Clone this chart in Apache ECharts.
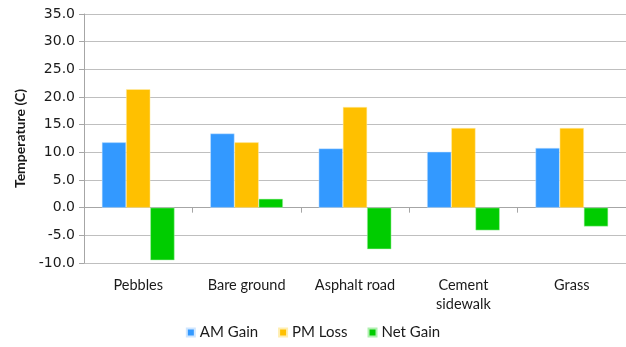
<!DOCTYPE html>
<html><head><meta charset="utf-8">
<script src="https://cdn.jsdelivr.net/npm/echarts@6/dist/echarts.min.js"></script>
<style>html,body{margin:0;padding:0;background:#fff}#c{width:626px;height:347px}</style>
</head><body><div id="c"></div>
<script>
const categories = ['Pebbles', 'Bare ground', 'Asphalt road', 'Cement\nsidewalk', 'Grass'];
const amGain = [11.8, 13.4, 10.7, 10.1, 10.8];
const pmLoss = [21.4, 11.8, 18.2, 14.4, 14.4];
const netGain = [-9.5, 1.6, -7.5, -4.1, -3.4];
const seriesNames = ['AM Gain', 'PM Loss', 'Net Gain'];
const colors = ['#3399FF', '#FFC000', '#00CC00'];

const chart = echarts.init(document.getElementById('c'), null, {renderer: 'canvas'});
const catFont = 'Lato, "Open Sans", sans-serif';
chart.setOption({
  animation: false,
  color: colors,
  grid: {left: 84, right: 0, top: 14, bottom: 84, containLabel: false},
  legend: {
    bottom: 2, left: 'center', itemWidth: 8, itemHeight: 8, itemGap: 20,
    icon: 'rect',
    textStyle: {fontFamily: catFont, fontSize: 15, color: '#1a1a1a'},
    data: seriesNames
  },
  xAxis: [{
    type: 'category', data: categories,
    axisLine: {onZero: true, lineStyle: {color: '#a6a6a6', width: 1}},
    axisTick: {show: true, length: 5, lineStyle: {color: '#a6a6a6'}},
    axisLabel: {show: false}
  }, {
    type: 'category', data: categories, position: 'bottom',
    axisLine: {show: false, onZero: false}, axisTick: {show: false},
    axisLabel: {margin: 13, fontFamily: catFont, fontSize: 14.5, color: '#1a1a1a', lineHeight: 19, interval: 0}
  }],
  yAxis: {
    type: 'value', min: -10, max: 35, interval: 5,
    name: 'Temperature (C)', nameLocation: 'middle', nameGap: 55,
    nameTextStyle: {fontFamily: catFont, fontSize: 14, fontWeight: 'bold', color: '#1a1a1a'},
    axisLine: {show: true, lineStyle: {color: '#a6a6a6'}},
    axisTick: {show: true, length: 5, lineStyle: {color: '#a6a6a6'}},
    axisLabel: {margin: 9, fontFamily: 'DejaVu Sans', fontSize: 14, color: '#1a1a1a', formatter: v => v.toFixed(1)},
    splitLine: {lineStyle: {color: '#bfbfbf', width: 1}}
  },
  series: [
    {name: seriesNames[0], type: 'bar', data: amGain, barGap: '0%', barCategoryGap: '33%', itemStyle: {borderColor: '#cfe6ff', borderWidth: 0.5}},
    {name: seriesNames[1], type: 'bar', data: pmLoss, barGap: '0%', barCategoryGap: '33%', itemStyle: {borderColor: '#ffeeb0', borderWidth: 0.5}},
    {name: seriesNames[2], type: 'bar', data: netGain, barGap: '0%', barCategoryGap: '33%', itemStyle: {borderColor: '#b0f0b0', borderWidth: 0.5}}
  ]
});
</script></body></html>
